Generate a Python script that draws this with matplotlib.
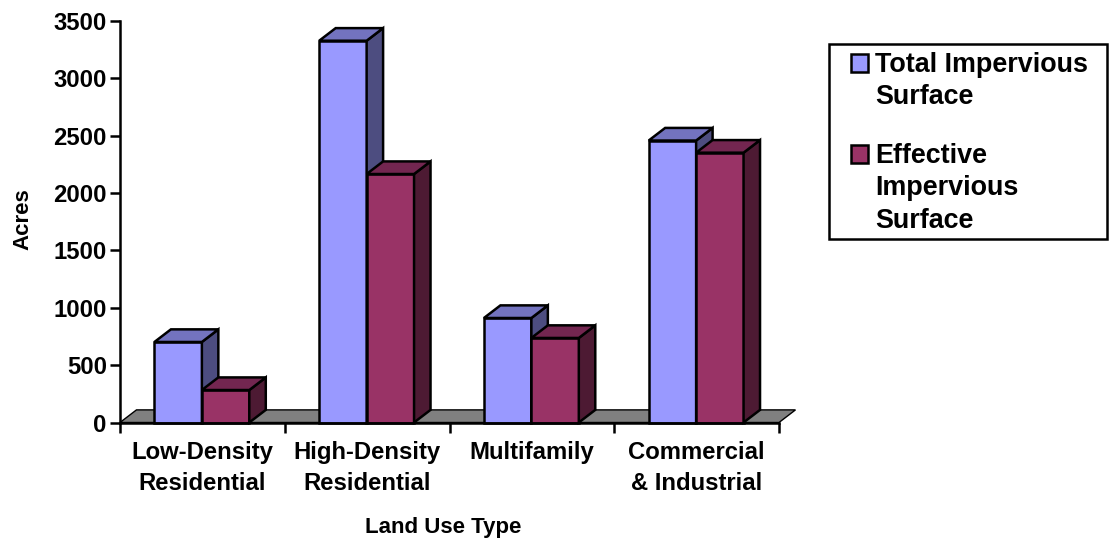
import matplotlib
matplotlib.use("Agg")
import matplotlib.pyplot as plt
from matplotlib.patches import Polygon, Rectangle

categories = ["Low-Density\nResidential", "High-Density\nResidential", "Multifamily", "Commercial\n& Industrial"]
total_impervious = [702, 3328, 911, 2458]
effective_impervious = [283, 2166, 737, 2352]
series_names = ["Total Impervious\nSurface", "Effective\nImpervious\nSurface"]
y_ticks = [0, 500, 1000, 1500, 2000, 2500, 3000, 3500]

W, H = 1112, 550
FONT = "Liberation Sans"
plt.rcParams["font.family"] = FONT
plt.rcParams["font.weight"] = "bold"

fig = plt.figure(figsize=(W / 100, H / 100), dpi=100, facecolor="white")
ax = fig.add_axes([120 / W, 1 - 422.5 / H, 659 / W, 401.5 / H])
ax.set_xlim(0, 4)
ax.set_ylim(0, 3500)
ax.patch.set_visible(False)

# Oblique depth of the pseudo-3D bars, in data units
DX = 16.5 / 165
DY = 110
BAR_W = 47.5 / 165
BAR_START = 34.5 / 165
LW = 1.8


def prism(x, h, front, side, top):
    """Front, side and top faces of one bar."""
    faces = [
        ([(x, 0), (x + BAR_W, 0), (x + BAR_W, h), (x, h)], front),
        ([(x + BAR_W, 0), (x + BAR_W + DX, DY), (x + BAR_W + DX, h + DY), (x + BAR_W, h)], side),
        ([(x, h), (x + BAR_W, h), (x + BAR_W + DX, h + DY), (x + DX, h + DY)], top),
    ]
    for pts, color in faces:
        ax.add_patch(Polygon(pts, closed=True, facecolor=color, edgecolor="black",
                             linewidth=LW, joinstyle="miter", clip_on=False, zorder=3))


# Floor of the chart
ax.add_patch(Polygon([(0, 0), (DX, DY), (4 + DX, DY), (4, 0)], closed=True, facecolor="#808080",
                     edgecolor="black", linewidth=1.0, clip_on=False, zorder=1))

for i, (a, b) in enumerate(zip(total_impervious, effective_impervious)):
    x0 = i + BAR_START
    prism(x0, a, "#9999FF", "#4D4D80", "#7373BF")
    prism(x0 + BAR_W, b, "#993366", "#4D1A33", "#732650")

ax.spines["top"].set_visible(False)
ax.spines["right"].set_visible(False)
for s in ("left", "bottom"):
    ax.spines[s].set_linewidth(LW)
    ax.spines[s].set_zorder(4)

ax.set_yticks(y_ticks)
ax.set_xticks(range(5))
ax.set_xticklabels([""] * 5)
ax.tick_params(axis="both", length=7, width=LW, color="black")
ax.tick_params(axis="y", labelsize=17.2, pad=2.5)
for i, c in enumerate(categories):
    ax.annotate(c, xy=(i + 0.5, 0), xycoords=("data", "axes fraction"), xytext=(0, -13),
                textcoords="offset points", ha="center", va="top", fontsize=17.2,
                fontweight="bold", linespacing=1.45)

fig.text(443.5 / W, 1 - 527.5 / H, "Land Use Type", ha="center", va="center", fontsize=16, fontweight="bold")
fig.text(22.5 / W, 1 - 219 / H, "Acres", ha="center", va="center", rotation=90, fontsize=16, fontweight="bold")

# Legend frame, swatches and labels
fig.add_artist(Rectangle((828.5 / W, 1 - 238.5 / H), 278 / W, 194 / H, transform=fig.transFigure,
                         facecolor="white", edgecolor="black", linewidth=LW))
for name, color, ys, yt in zip(series_names, ["#9999FF", "#993366"], [63, 154], [52, 143]):
    fig.add_artist(Rectangle((851 / W, 1 - (ys + 9) / H), 17 / W, 18 / H, transform=fig.transFigure,
                             facecolor=color, edgecolor="black", linewidth=1.8))
    fig.text(875 / W, 1 - yt / H, name, ha="left", va="top", fontsize=19.4, fontweight="bold", linespacing=1.32)

fig.savefig("out.png", dpi=100)
